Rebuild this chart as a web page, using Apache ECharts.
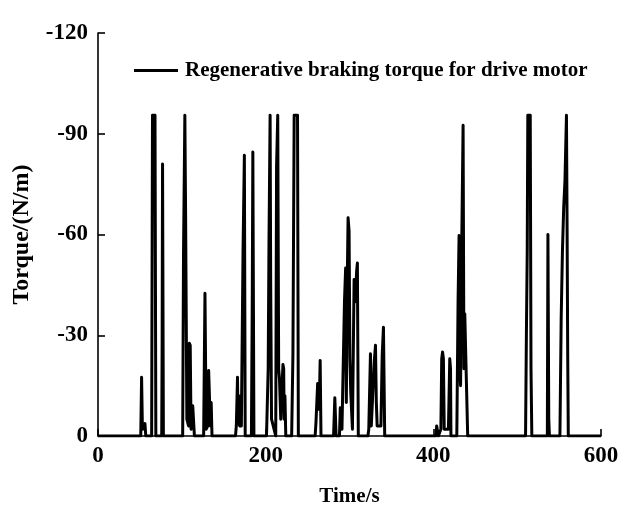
<!DOCTYPE html>
<html>
<head>
<meta charset="utf-8">
<script src="https://cdn.jsdelivr.net/npm/echarts@6/dist/echarts.min.js"></script>
<style>
html,body{margin:0;padding:0;background:#fff;}
#chart{width:629px;height:506px;}
</style>
</head>
<body>
<div id="chart"></div>
<script>
// Time (s) and regenerative braking torque (N/m)
var timeS = [
  0, 51, 52, 53, 55, 56, 57,
  64, 65, 68, 69,
  76, 76.5, 77, 78,
  101, 102, 103.6, 104.5, 106, 108, 109, 110, 111, 113, 114, 115,
  126, 127.6, 129, 131, 132, 133, 134, 135, 136,
  164, 165, 166.4, 167, 169, 170, 171, 173, 174.6, 175.6,
  183, 184, 184.7, 186,
  201, 203, 204, 205.3, 206, 207, 212, 213, 214.4, 215.5, 216.5, 218, 220.6, 221.5, 222, 223, 224,
  231, 232.5, 233.3, 234, 238, 239,
  259, 260, 262, 263, 264, 265, 266,
  281, 282.5, 284,
  288, 289, 290, 291, 294, 295.4, 296.2, 297.3, 298.3, 299.5, 300.5, 301.5, 302.6, 303.5, 305.5, 307, 308.5, 309.4, 310.5,
  322, 323, 325, 326, 328, 329.5, 331, 332, 333, 337.5, 339, 340.5, 342,
  403, 404, 405, 406, 409, 410, 411, 412, 413, 418, 419.6, 420.5, 421,
  428, 429.5, 430.7, 431.5, 432.5, 434, 435.5, 436.5, 437.5, 439.8, 441,
  510, 511, 512, 512.7, 515.6, 516.5, 517.5,
  536, 536.7, 537.7, 538.5,
  551, 552.5, 554, 555.5, 557, 558.8, 559.6, 560.3, 561, 600
];
var torqueNm = [
  0, 0, -17.5, -2, -2, -3.7, 0,
  0, -95.5, -95.5, 0,
  0, -28, -81, 0,
  0, -54, -95.5, -66, -5, -3, -27.6, -27, -2, -9, -9, 0,
  0, -42.5, -2, -3, -19.5, -19, -3, -10, 0,
  0, -3, -17.5, -5, -3, -12, -3, -55, -83.6, 0,
  0, -40, -84.6, 0,
  0, -20, -59, -95.5, -45, -5, 0, -80, -95.5, -20, -17, -5, -21.3, -20, -5, -12, 0,
  0, -24, -62, -95.5, -95.5, 0,
  0, -4, -15.6, -8, -10, -22.5, 0,
  0, -11.4, 0,
  0, -8.4, -8.4, -2, -40, -50, -10, -45, -65, -61, -23, -13, -13, -2, -46.6, -40, -49, -51.5, 0,
  0, -2, -24.5, -3, -3, -22, -27, -10, -3, -3, -24, -32.4, 0,
  0, -3, -3, 0, -2, -23, -25, -23, -2, -2, -23, -20, 0,
  0, -40, -59.7, -20, -15, -60, -92.5, -20, -36.4, -36.4, 0,
  0, -30, -55, -95.5, -95.5, -20, 0,
  0, -60, -5, 0,
  0, -35, -55, -68, -76, -95.5, -60, -24, 0, 0
];
var xTicks = [0, 200, 400, 600];
var yTicks = [-120, -90, -60, -30, 0];
var seriesName = 'Regenerative braking torque for drive motor';

var data = timeS.map(function (t, i) { return [t, torqueNm[i]]; });
var font = '"Liberation Serif", "Times New Roman", serif';

var chart = echarts.init(document.getElementById('chart'), null, {renderer: 'canvas'});
chart.setOption({
  animation: false,
  backgroundColor: '#fff',
  grid: {left: 98, right: 28, top: 33, bottom: 70, containLabel: false, outerBoundsMode: 'none'},
  legend: {
    show: true,
    left: 129,
    top: 55,
    icon: 'rect',
    itemWidth: 44,
    itemHeight: 3,
    data: [seriesName],
    textStyle: {fontFamily: font, fontWeight: 'bold', fontSize: 21, color: '#000', padding: [0, 0, 0, 2]}
  },
  xAxis: {
    type: 'value',
    min: xTicks[0],
    max: xTicks[xTicks.length - 1],
    interval: 200,
    name: 'Time/s',
    nameLocation: 'middle',
    nameGap: 50,
    nameTextStyle: {fontFamily: font, fontWeight: 'bold', fontSize: 21, color: '#000'},
    axisLine: {onZero: false, lineStyle: {color: '#000', width: 1.6}},
    axisTick: {inside: true, length: 7, lineStyle: {color: '#000', width: 1.6}},
    axisLabel: {margin: 9, fontFamily: font, fontWeight: 'bold', fontSize: 23, color: '#000'},
    splitLine: {show: false}
  },
  yAxis: {
    type: 'value',
    min: yTicks[0],
    max: yTicks[yTicks.length - 1],
    interval: 30,
    inverse: true,
    name: 'Torque/(N/m)',
    nameLocation: 'middle',
    nameGap: 64,
    nameRotate: 90,
    nameTextStyle: {fontFamily: font, fontWeight: 'bold', fontSize: 24, color: '#000'},
    axisLine: {show: true, onZero: false, lineStyle: {color: '#000', width: 1.6}},
    axisTick: {show: true, inside: true, length: 7, lineStyle: {color: '#000', width: 1.6}},
    axisLabel: {margin: 10, fontFamily: font, fontWeight: 'bold', fontSize: 23, color: '#000'},
    splitLine: {show: false}
  },
  series: [{
    name: seriesName,
    type: 'line',
    data: data,
    showSymbol: false,
    symbol: 'none',
    lineStyle: {color: '#000', width: 3, join: 'round'},
    itemStyle: {color: '#000'}
  }]
});
</script>
</body>
</html>
